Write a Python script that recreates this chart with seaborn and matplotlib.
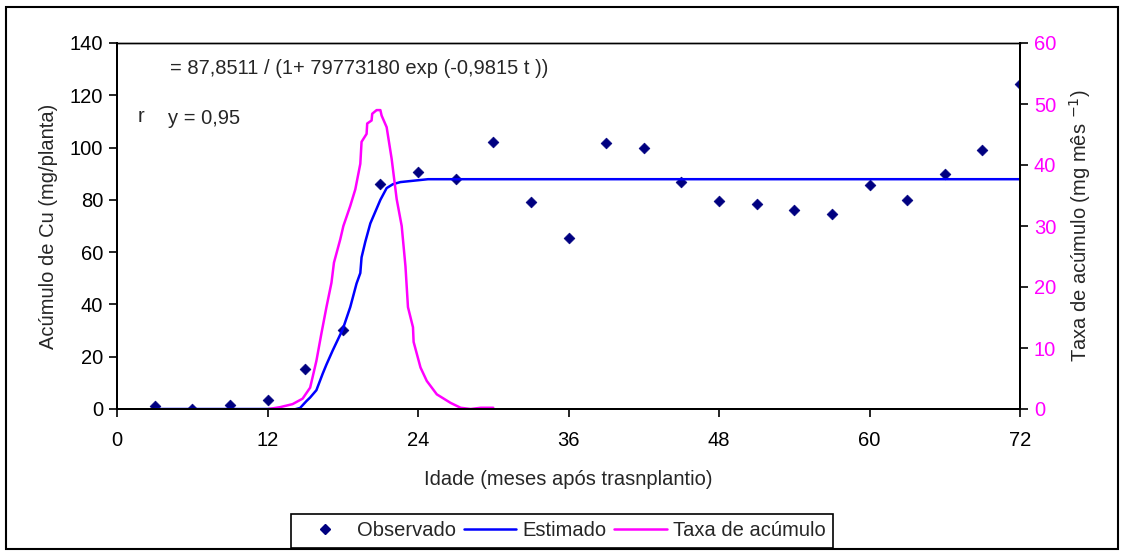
import matplotlib
matplotlib.use("Agg")
import matplotlib.pyplot as plt
from matplotlib.lines import Line2D
from matplotlib.patches import Rectangle
import seaborn as sns
import pandas as pd

# Observed copper accumulation (mg/planta) by age in months
obs_t = [3, 6, 9, 12, 15, 18, 21, 24, 27, 30, 33, 36, 39, 42, 45, 48,
         51, 54, 57, 60, 63, 66, 69, 72]
obs_cu = [1.0, 0.0, 1.5, 3.4, 15.3, 30.3, 86.0, 90.8, 88.0, 102.3, 79.0, 65.5,
          101.7, 99.7, 86.8, 79.7, 78.3, 76.3, 74.6, 85.5, 80.1, 90.0, 99.0, 124.5]

# Fitted logistic curve (Estimado)
est_t = [3, 13, 13.8, 14.6, 15.1, 15.4, 15.9, 16.4, 16.7, 17.2, 18.0, 18.6,
         19.1, 19.4, 19.5, 19.8, 20.2, 21.0, 21.5, 22.0, 22.6, 24.8, 72]
est_cu = [0.0, 0.0, -0.6, 0.4, 3.0, 4.4, 7.2, 13.5, 17.0, 22.4, 30.5, 39.0,
          48.0, 52.0, 58.0, 64.0, 71.0, 80.0, 84.5, 86.0, 86.8, 87.9, 87.9]

# Accumulation rate (mg mês-1)
rate_t = [12.1, 13.0, 14.0, 14.8, 15.4, 15.9, 16.3, 16.7, 17.1, 17.3, 17.8,
          18.05, 18.6, 19.0, 19.4, 19.5, 19.9, 19.95, 20.3, 20.35, 20.7, 21.0,
          21.1, 21.5, 21.9, 22.3, 22.7, 23.0, 23.2, 23.6, 23.65, 24.2, 24.7,
          25.5, 26.6, 27.4, 28.2, 29.0, 30.0]
rate_v = [0.0, 0.3, 0.8, 1.7, 3.5, 7.9, 12.4, 16.7, 20.7, 24.0, 27.8,
          30.0, 33.3, 36.0, 40.2, 43.8, 45.1, 46.8, 47.3, 48.4, 49.0, 49.0,
          48.1, 46.2, 41.0, 34.4, 30.0, 23.4, 16.7, 13.4, 11.0, 6.8, 4.6,
          2.4, 1.0, 0.2, 0.0, 0.2, 0.2]

x_ticks = [0, 12, 24, 36, 48, 60, 72]
left_ticks = [0, 20, 40, 60, 80, 100, 120, 140]
right_ticks = [0, 10, 20, 30, 40, 50, 60]

obs = pd.DataFrame({"t": obs_t, "cu": obs_cu})
est = pd.DataFrame({"t": est_t, "cu": est_cu})
rate = pd.DataFrame({"t": rate_t, "v": rate_v})

sns.set_theme(style="white")
plt.rcParams["font.family"] = ["Liberation Sans", "DejaVu Sans"]

FS = 14.5
W, H = 1124, 555
fig = plt.figure(figsize=(W / 100, H / 100), dpi=100)
fig.patch.set_facecolor("white")

# Outer chart frame
fig.patches.append(Rectangle((6 / W, 1 - 549 / H), (1118 - 6) / W, (549 - 7) / H,
                             transform=fig.transFigure, fill=False,
                             edgecolor="black", linewidth=1.5, zorder=0))

ax = fig.add_axes([117 / W, 1 - 409 / H, (1020 - 117) / W, (409 - 43) / H])
ax2 = ax.twinx()

NAVY = "#000080"
BLUE = "#0000FF"
MAG = "#FF00FF"

sns.scatterplot(data=obs, x="t", y="cu", ax=ax, marker="D", s=30,
                color=NAVY, edgecolor=NAVY, linewidth=0.5, zorder=2, legend=False)
sns.lineplot(data=est, x="t", y="cu", ax=ax, color=BLUE, linewidth=1.8,
             zorder=3, legend=False, estimator=None, sort=False)
sns.lineplot(data=rate, x="t", y="v", ax=ax2, color=MAG, linewidth=1.8,
             zorder=3, legend=False, estimator=None, sort=False)

ax.set_xlim(0, 72)
ax.set_ylim(0, 140)
ax2.set_ylim(0, 60)
ax.set_xticks(x_ticks)
ax.set_yticks(left_ticks)
ax2.set_yticks(right_ticks)
ax.set_xticklabels([str(v) for v in x_ticks])
ax.set_yticklabels([str(v) for v in left_ticks])
ax2.set_yticklabels([str(v) for v in right_ticks])

for a in (ax, ax2):
    for s in a.spines.values():
        s.set_color("black")
        s.set_linewidth(1.4)
        s.set_zorder(4)
    a.grid(False)
    a.set_facecolor("none")
ax.spines["top"].set_linewidth(1.0)
ax2.spines["top"].set_linewidth(1.0)

ax.tick_params(axis="both", direction="out", length=6, width=1.2,
               color="black", labelsize=FS, labelcolor="black", pad=4)
ax.tick_params(axis="x", pad=10)
ax2.tick_params(axis="y", direction="out", length=6, width=1.2,
                color="black", labelsize=FS, labelcolor=MAG, pad=4)
ax.tick_params(axis="both", bottom=True, left=True)
ax2.tick_params(right=True)

ax.set_xlabel("Idade (meses após trasnplantio)", fontsize=FS, labelpad=14)
ax.set_ylabel("Acúmulo de Cu (mg/planta)", fontsize=FS, labelpad=8)
ax2.set_ylabel("Taxa de acúmulo (mg mês $^{-1}$)", fontsize=FS, labelpad=8)

ax.text(170 / W, 1 - 68 / H, "= 87,8511 / (1+ 79773180 exp (-0,9815 t ))",
        transform=fig.transFigure, fontsize=FS, va="center", ha="left")
ax.text(138 / W, 1 - 116 / H, "r", transform=fig.transFigure,
        fontsize=FS, va="center", ha="left")
ax.text(168 / W, 1 - 119 / H, "y = 0,95", transform=fig.transFigure,
        fontsize=FS, va="center", ha="left")

handles = [
    Line2D([], [], linestyle="none", marker="D", markersize=5,
           color=NAVY, label="Observado"),
    Line2D([], [], color=BLUE, linewidth=1.8, label="Estimado"),
    Line2D([], [], color=MAG, linewidth=1.8, label="Taxa de acúmulo"),
]
leg = fig.legend(handles=handles, loc="center", ncol=3,
                 bbox_to_anchor=(562 / W, 1 - 531 / H), fontsize=FS,
                 frameon=True, fancybox=False, edgecolor="black",
                 handlelength=2.6, handletextpad=0.3, columnspacing=0.4,
                 borderpad=0.35, framealpha=1)
leg.get_frame().set_linewidth(1.2)

fig.savefig("out.png", dpi=100, facecolor="white")
